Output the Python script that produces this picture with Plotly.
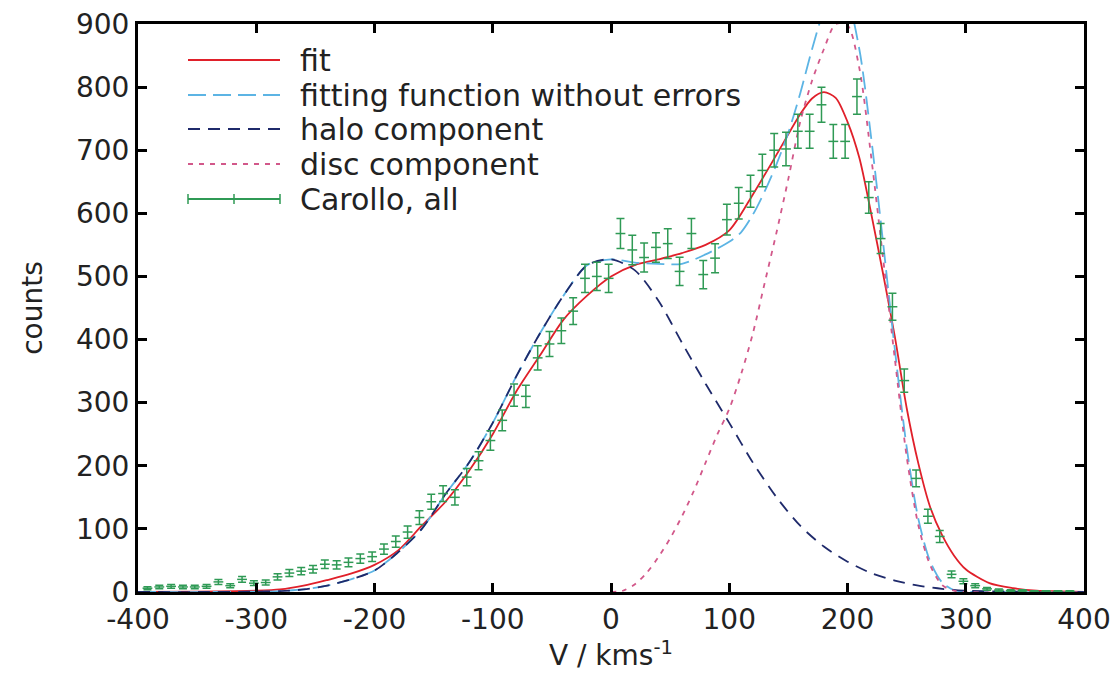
import plotly.graph_objects as go

# ---------------- data ----------------
V_data = [-392, -382, -372, -362, -352, -342, -332, -322, -312, -302, -292, -282, -272, -262,
          -252, -242, -232, -222, -212, -202, -192, -182, -172, -162, -152, -142, -132, -122,
          -112, -102, -92, -82, -72, -62, -52, -42, -32, -22, -12, -2, 8, 18, 28, 38, 48, 58,
          68, 78, 88, 98, 108, 118, 128, 138, 148, 158, 168, 178, 188, 198, 208, 218, 228, 238,
          248, 258, 268, 278, 288, 298, 308, 318, 328, 338, 348, 358, 368, 378, 388]
counts_data = [6, 8, 9, 8, 8, 9, 16, 10, 20, 14, 15, 24, 30, 33,
               36, 44, 43, 47, 53, 56, 68, 80, 95, 118, 143, 156, 150, 182,
               208, 240, 272, 312, 310, 371, 393, 414, 445, 497, 500, 497, 568, 542, 530, 546, 552, 508,
               568, 503, 529, 590, 616, 635, 668, 700, 702, 730, 730, 772, 714, 714, 785, 625, 560, 452,
               335, 180, 120, 88, 28, 17, 10, 5, 3, 2, 2, 1, 1, 1, 1]
err_data = [2.4, 2.8, 3.0, 2.8, 2.8, 3.0, 4.0, 3.2, 4.5, 3.7, 3.9, 4.9, 5.5, 5.7,
            6.0, 6.6, 6.6, 6.9, 7.3, 7.5, 8.2, 8.9, 9.7, 10.9, 12.0, 12.5, 12.2, 13.5,
            14.4, 15.5, 16.5, 17.7, 17.6, 19.3, 19.8, 20.3, 21.1, 22.3, 22.4, 22.3, 23.8, 23.3, 23.0, 23.4, 23.5, 22.5,
            23.8, 22.4, 23.0, 24.3, 24.8, 25.2, 25.8, 26.5, 26.5, 27.0, 27.0, 27.8, 26.7, 26.7, 28.0, 25.0, 23.7, 21.3,
            18.3, 13.4, 11.0, 9.4, 5.3, 4.1, 3.2, 2.2, 1.7, 1.4, 1.4, 1.0, 1.0, 1.0, 1.0]

fit_V = [-400, -350, -300, -280, -260, -240, -220, -200, -180, -160, -140, -120, -100, -80, -60,
         -40, -20, 0, 20, 40, 60, 80, 100, 120, 140, 160, 170, 180, 190, 200, 210, 220, 230, 240,
         250, 260, 270, 280, 290, 300, 320, 340, 360, 380, 400]
fit_counts = [0, 0.5, 2, 4, 10, 19, 29, 43, 66, 105, 143, 192, 250, 318, 375,
              432, 470, 500, 518, 527, 537, 550, 573, 630, 693, 757, 782, 792, 783, 745, 688, 600, 505, 405,
              292, 203, 134, 90, 58, 36, 14, 6, 2, 1, 0]

nofit_V = [-400, -340, -300, -280, -260, -240, -220, -200, -180, -160, -140, -120, -100, -80, -60,
           -40, -20, 0, 20, 40, 60, 80, 100, 110, 120, 130, 140, 150, 160, 170, 180, 190, 200, 210,
           220, 230, 240, 250, 260, 270, 280, 290, 300, 320, 400]
nofit_counts = [0, 0, 0.5, 1.5, 4, 10, 20, 34, 63, 100, 155, 205, 268, 342, 410,
                470, 518, 527, 522, 520, 520, 535, 555, 570, 598, 635, 678, 728, 790, 860, 920, 950, 935, 860,
                720, 555, 385, 230, 115, 48, 15, 3, 0.5, 0, 0]

halo_V = [-400, -340, -300, -280, -260, -240, -220, -200, -180, -160, -140, -120, -100, -80, -60,
          -40, -20, 0, 20, 40, 60, 80, 100, 120, 140, 160, 180, 200, 220, 240, 260, 280, 300, 340, 400]
halo_counts = [0, 0, 0.5, 1.5, 4, 10, 20, 34, 63, 100, 155, 205, 268, 342, 410,
               470, 518, 527, 510, 462, 395, 330, 268, 205, 150, 105, 72, 48, 30, 18, 10, 5, 2, 0.5, 0]

disc_V = [0, 10, 20, 30, 40, 50, 60, 70, 80, 90, 100, 110, 120, 130, 140, 150, 160, 170, 180, 190,
          200, 210, 220, 230, 240, 250, 260, 270, 280, 290, 300, 400]
disc_counts = [0, 2, 12, 30, 55, 85, 120, 160, 205, 250, 290, 345, 410, 490, 570, 655, 745, 810, 860, 900,
               898, 830, 690, 530, 370, 215, 105, 42, 11, 2, 0, 0]

x_ticks = [-400, -300, -200, -100, 0, 100, 200, 300, 400]
y_ticks = [0, 100, 200, 300, 400, 500, 600, 700, 800, 900]

legend_labels = ["fit", "fitting function without errors", "halo component",
                 "disc component", "Carollo, all"]

# ---------------- styles ----------------
C_FIT = "#e0202a"
C_NOFIT = "#5cb4e4"
C_HALO = "#1f2a6b"
C_DISC = "#d2588a"
C_DATA = "#2f9a55"
C_TEXT = "#222222"
FONT = "DejaVu Sans"

# the page body adds an 8px offset, so the figure is sized/placed to compensate
W, H = 1110, 665
L, T = 130, 16
PW, PH = 946, 568
R, B = W - L - PW, H - T - PH


def px(x):  # x in window pixels -> paper
    return (x - 8 - L) / PW


def py(y):  # y in window pixels -> paper
    return (T + PH - (y - 8)) / PH


fig = go.Figure()

fig.add_trace(go.Scatter(x=fit_V, y=fit_counts, mode="lines", name=legend_labels[0],
                         line=dict(color=C_FIT, width=1.8, shape="spline", smoothing=0.8)))
fig.add_trace(go.Scatter(x=nofit_V, y=nofit_counts, mode="lines", name=legend_labels[1],
                         line=dict(color=C_NOFIT, width=1.8, dash="18px,7px", shape="spline", smoothing=0.8)))
fig.add_trace(go.Scatter(x=halo_V, y=halo_counts, mode="lines", name=legend_labels[2],
                         line=dict(color=C_HALO, width=1.8, dash="12px,8px", shape="spline", smoothing=0.8)))
fig.add_trace(go.Scatter(x=disc_V, y=disc_counts, mode="lines", name=legend_labels[3],
                         line=dict(color=C_DISC, width=1.8, dash="5px,6px", shape="spline", smoothing=0.8)))
fig.add_trace(go.Scatter(x=V_data, y=counts_data, mode="markers", name=legend_labels[4],
                         marker=dict(symbol="line-ew", size=7, color=C_DATA,
                                     line=dict(color=C_DATA, width=1.5)),
                         error_y=dict(type="data", array=err_data, visible=True,
                                      color=C_DATA, thickness=1.5, width=4)))

# ---------------- manual gnuplot-style key ----------------
shapes = []
annotations = []
rows_y = [60, 95, 129, 164, 199]
colors = [C_FIT, C_NOFIT, C_HALO, C_DISC, C_DATA]
dashes = ["solid", "18px,7px", "12px,8px", "5px,6px", "solid"]
x0, x1 = 188, 280
for i, (lab, yy) in enumerate(zip(legend_labels, rows_y)):
    shapes.append(dict(type="line", xref="paper", yref="paper",
                       x0=px(x0), x1=px(x1), y0=py(yy), y1=py(yy),
                       line=dict(color=colors[i], width=1.8, dash=dashes[i])))
    annotations.append(dict(text=lab, xref="paper", yref="paper", x=px(298), y=py(yy),
                            xanchor="left", yanchor="middle", showarrow=False,
                            font=dict(family=FONT, size=30, color=C_TEXT)))
# error-bar key ticks
for xx in (x0, (x0 + x1) / 2, x1):
    shapes.append(dict(type="line", xref="paper", yref="paper",
                       x0=px(xx), x1=px(xx), y0=py(rows_y[4] - 5), y1=py(rows_y[4] + 5),
                       line=dict(color=C_DATA, width=1.5)))

fig.update_layout(
    width=W, height=H,
    margin=dict(l=L, r=R, t=T, b=B, autoexpand=False),
    paper_bgcolor="white", plot_bgcolor="white",
    showlegend=False,
    shapes=shapes, annotations=annotations,
    font=dict(family=FONT, size=28, color=C_TEXT),
)
axis_common = dict(showline=True, linecolor="black", linewidth=3, mirror="allticks",
                   ticks="inside", ticklen=9, tickwidth=2.5, tickcolor="black",
                   showgrid=False, zeroline=False, automargin=False,
                   ticklabeloverflow="allow",
                   tickfont=dict(family=FONT, size=28, color=C_TEXT))
fig.update_xaxes(range=[-400, 400], tickvals=x_ticks, ticktext=[str(v) for v in x_ticks],
                 title=dict(text="V / kms<sup>-1</sup>", font=dict(family=FONT, size=28, color=C_TEXT),
                            standoff=10),
                 **axis_common)
fig.update_yaxes(range=[0, 900], tickvals=y_ticks, ticktext=[str(v) for v in y_ticks],
                 title=dict(text="counts", font=dict(family=FONT, size=28, color=C_TEXT),
                            standoff=26),
                 **axis_common)

fig.write_html("out.html")
